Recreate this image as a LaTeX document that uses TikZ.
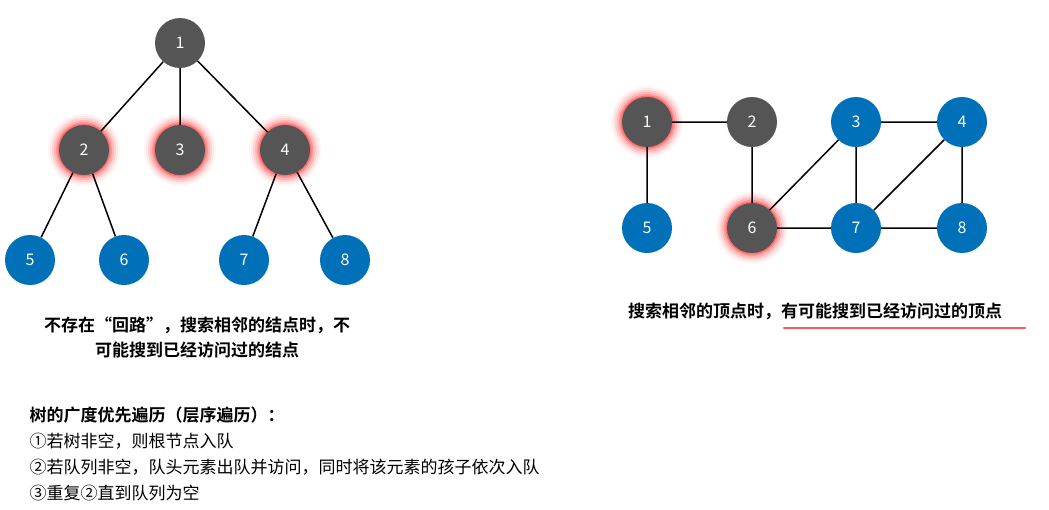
\documentclass[tikz,border=0pt]{standalone}
\usepackage{fontspec}
\setmainfont{Noto Sans CJK SC}
\newfontfamily\cjkb{Noto Sans CJK SC Bold}
\definecolor{nodegray}{RGB}{85,85,85}
\definecolor{nodeblue}{RGB}{0,112,184}
\begin{document}
\begin{tikzpicture}[x=1pt,y=-1pt,
  gv/.style={circle,fill=nodegray,minimum size=50pt,inner sep=0pt,text=white,font=\fontsize{16}{16}\selectfont},
  bv/.style={gv,fill=nodeblue},
  edge/.style={line width=1.5pt,black},
  captxt/.style={font=\cjkb\fontsize{17}{19}\selectfont},
  txt/.style={font=\fontsize{17}{19}\selectfont,anchor=west}]
\useasboundingbox (0,0) rectangle (1049,509);
\newcommand\glow[1]{\foreach \r/\o in {36/0.04,34/0.06,32/0.09,30/0.13,28/0.18,26.5/0.25}{\fill[red,opacity=\o] (#1) circle (\r pt);}}
\glow{84,150}\glow{180,150}\glow{285,150}\glow{647,122}\glow{752,228}
\node[gv] (t1) at (180,43) {1};
\node[gv] (t2) at (84,150) {2};
\node[gv] (t3) at (180,150) {3};
\node[gv] (t4) at (285,150) {4};
\node[bv] (t5) at (30,260) {5};
\node[bv] (t6) at (124,260) {6};
\node[bv] (t7) at (244,260) {7};
\node[bv] (t8) at (345,260) {8};
\draw[edge] (t1)--(t2) (t1)--(t3) (t1)--(t4) (t2)--(t5) (t2)--(t6) (t4)--(t7) (t4)--(t8);
\node[gv] (g1) at (647,122) {1};
\node[gv] (g2) at (752,122) {2};
\node[bv] (g3) at (856,122) {3};
\node[bv] (g4) at (962,122) {4};
\node[bv] (g5) at (647,228) {5};
\node[gv] (g6) at (752,228) {6};
\node[bv] (g7) at (856,228) {7};
\node[bv] (g8) at (962,228) {8};
\draw[edge] (g1)--(g2) (g1)--(g5) (g2)--(g6) (g3)--(g4) (g3)--(g6) (g3)--(g7) (g4)--(g7) (g4)--(g8) (g6)--(g7) (g7)--(g8);
\node[captxt,align=center] (c1) at (197,337) {不存在“回路”，搜索相邻的结点时，不\\[6pt]可能搜到已经访问过的结点};
\node[captxt] (c2) at (815,311) {搜索相邻的顶点时，有可能搜到已经访问过的顶点};
\coordinate (u1) at (784,328); \coordinate (u2) at (1025,328);
\draw[line width=2.5pt,line cap=round,red!65] (u1)--(u2);
\node[captxt,anchor=west] (b0) at (26,415) {树的广度优先遍历（层序遍历）：};
\node[txt] (b1) at (26,441) {①若树非空，则根节点入队};
\node[txt] (b2) at (26,467) {②若队列非空，队头元素出队并访问，同时将该元素的孩子依次入队};
\node[txt] (b3) at (26,493) {③重复②直到队列为空};
\end{tikzpicture}
\end{document}
